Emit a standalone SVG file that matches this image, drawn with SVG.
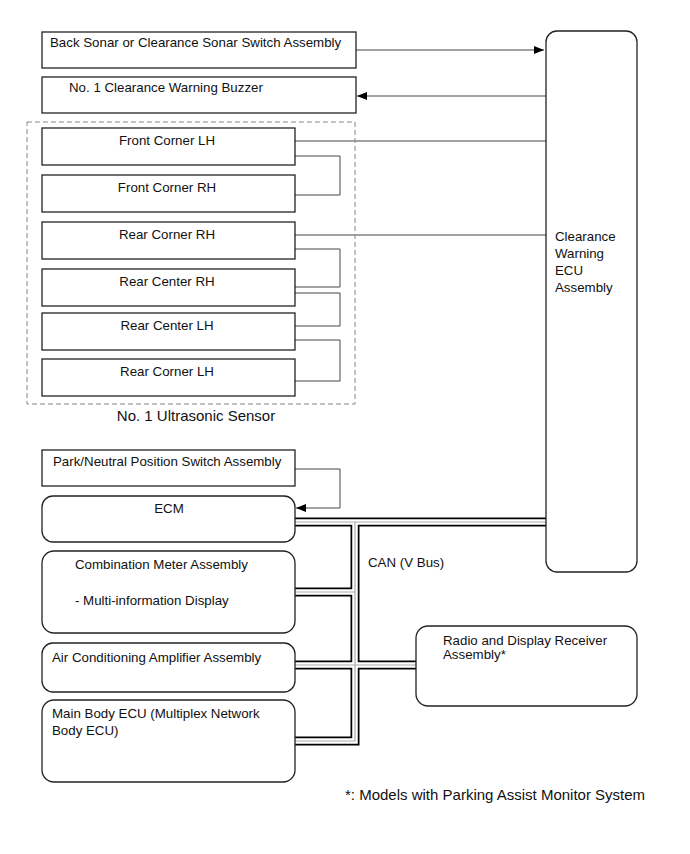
<svg xmlns="http://www.w3.org/2000/svg" width="690" height="854" viewBox="0 0 690 854">
<style>
text{font-family:"Liberation Sans",Arial,sans-serif;font-size:13.3px;fill:#111}
.box{fill:#fff;stroke:#222;stroke-width:1.3}
.ln{fill:none;stroke:#444;stroke-width:1}
.busO{fill:none;stroke:#000;stroke-width:9}
.busW{fill:none;stroke:#fff;stroke-width:5.5}
.busG{fill:none;stroke:#aaa;stroke-width:1.2}
.c{text-anchor:middle}
</style>
<defs>
<marker id="ah" markerWidth="10" markerHeight="8" refX="10" refY="4" orient="auto" markerUnits="userSpaceOnUse">
<path d="M0,0 L10,4 L0,8 Z" fill="#000"/>
</marker>
</defs>
<rect width="690" height="854" fill="#fff"/>
<g id="connectors">
<path class="ln" d="M356,50 H544" marker-end="url(#ah)"/>
<path class="ln" d="M546,96 H357" marker-end="url(#ah)"/>
<path class="ln" d="M295,141 H546"/>
<path class="ln" d="M295,156 H340 V195 H295"/>
<path class="ln" d="M295,235 H546"/>
<path class="ln" d="M295,249 H340 V287 H295"/>
<path class="ln" d="M295,293 H340 V326 H295"/>
<path class="ln" d="M295,340 H340 V381 H295"/>
<path class="ln" d="M295,469 H340 V508 H296" marker-end="url(#ah)"/>
<g id="can-bus">
<path class="busO" d="M295,522 H546 M355,522 V741 H295 M295,592 H355 M295,665 H416"/>
<path class="busW" d="M295,522 H546 M355,522 V741 H295 M295,592 H355 M295,665 H416"/>
<path class="busG" d="M295,522 H546 M355,522 V741 H295 M295,592 H355 M295,665 H416"/>
</g>
<text x="368" y="567">CAN (V Bus)</text>
</g>
<g id="back-sonar"><rect class="box" x="42" y="32" width="314" height="36"/><text x="50" y="47">Back Sonar or Clearance Sonar Switch Assembly</text></g>
<g id="buzzer"><rect class="box" x="42" y="77" width="314" height="36"/><text x="69" y="92">No. 1 Clearance Warning Buzzer</text></g>
<g id="ultrasonic-sensor">
<rect x="27" y="122" width="328" height="282" fill="none" stroke="#888" stroke-width="1" stroke-dasharray="5,3"/>
<text class="c" x="196" y="421" style="font-size:15px">No. 1 Ultrasonic Sensor</text>
</g>
<g id="front-corner-lh"><rect class="box" x="42" y="128" width="253" height="37"/><text class="c" x="167" y="145">Front Corner LH</text></g>
<g id="front-corner-rh"><rect class="box" x="42" y="175" width="253" height="37"/><text class="c" x="167" y="192">Front Corner RH</text></g>
<g id="rear-corner-rh"><rect class="box" x="42" y="222" width="253" height="37"/><text class="c" x="167" y="239">Rear Corner RH</text></g>
<g id="rear-center-rh"><rect class="box" x="42" y="269" width="253" height="37"/><text class="c" x="167" y="286">Rear Center RH</text></g>
<g id="rear-center-lh"><rect class="box" x="42" y="313" width="253" height="37"/><text class="c" x="167" y="330">Rear Center LH</text></g>
<g id="rear-corner-lh"><rect class="box" x="42" y="359" width="253" height="37"/><text class="c" x="167" y="376">Rear Corner LH</text></g>
<g id="ecu"><rect class="box" x="546" y="31" width="91" height="541" rx="11"/>
<text x="555" y="241">Clearance</text><text x="555" y="258">Warning</text><text x="555" y="275">ECU</text><text x="555" y="292">Assembly</text></g>
<g id="park-neutral"><rect class="box" x="42" y="450" width="253" height="36"/><text x="53" y="466">Park/Neutral Position Switch Assembly</text></g>
<g id="ecm"><rect class="box" x="42" y="496" width="253" height="46" rx="11"/><text class="c" x="169" y="513">ECM</text></g>
<g id="combination-meter"><rect class="box" x="42" y="551" width="253" height="82" rx="12"/><text x="75" y="569">Combination Meter Assembly</text><text x="75" y="605">- Multi-information Display</text></g>
<g id="air-conditioning"><rect class="box" x="42" y="643" width="253" height="49" rx="11"/><text x="52" y="662">Air Conditioning Amplifier Assembly</text></g>
<g id="main-body-ecu"><rect class="box" x="42" y="700" width="253" height="82" rx="12"/><text x="52" y="718">Main Body ECU (Multiplex Network</text><text x="52" y="735">Body ECU)</text></g>
<g id="radio"><rect class="box" x="416" y="626" width="221" height="80" rx="12"/><text x="443" y="645">Radio and Display Receiver</text><text x="443" y="659">Assembly*</text></g>
<text x="345" y="800" style="font-size:15px">*: Models with Parking Assist Monitor System</text>
</svg>
